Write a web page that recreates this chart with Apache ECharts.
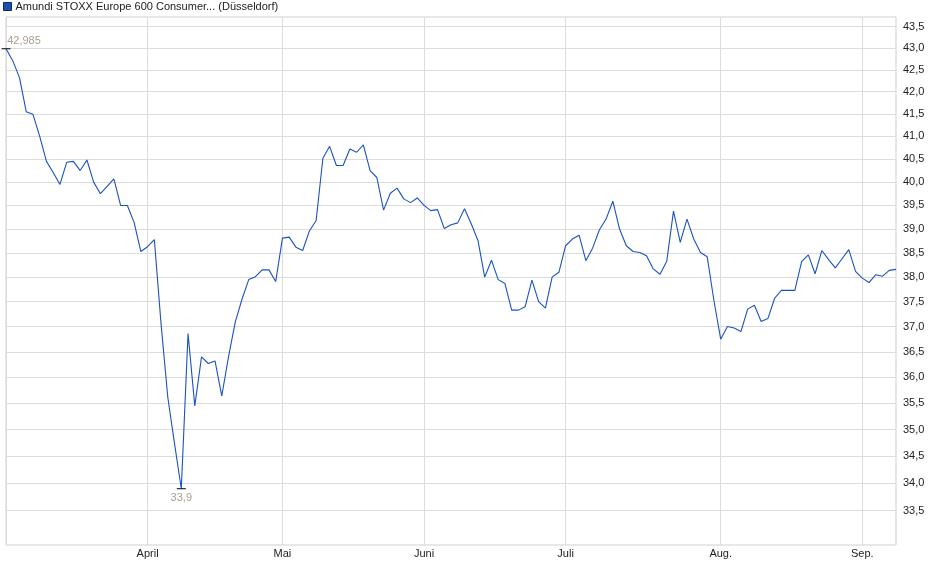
<!DOCTYPE html>
<html>
<head>
<meta charset="utf-8">
<script src="https://cdn.jsdelivr.net/npm/echarts@6/dist/echarts.min.js"></script>
<style>
  html, body { margin: 0; padding: 0; background: #fff; }
  #chart { width: 940px; height: 579px; }
</style>
</head>
<body>
<div id="chart"></div>
<script>
const seriesName = 'Amundi STOXX Europe 600 Consumer... (Düsseldorf)';

// trading days Mar 3 - Sep 8 2025, without exchange holidays
const firstDay = '2025-03-03';
const lastDay = '2025-09-08';
const holidays = ['2025-04-18', '2025-04-21', '2025-05-01'];

const monthNames = ['Jan.', 'Feb.', 'März', 'April', 'Mai', 'Juni', 'Juli', 'Aug.', 'Sep.', 'Okt.', 'Nov.', 'Dez.'];

// closing prices
const prices = [
  42.985, 42.71, 42.32, 41.55, 41.49, 41.0, 40.45, 40.21, 39.95, 40.43,
  40.45, 40.25, 40.48, 40.0, 39.75, 39.91, 40.07, 39.5, 39.5, 39.14,
  38.53, 38.63, 38.78, 37.05, 35.61, 34.73, 33.9, 36.86, 35.45, 36.4,
  36.27, 36.32, 35.64, 36.4, 37.09, 37.55, 37.95, 38.01, 38.15, 38.15,
  37.91, 38.81, 38.83, 38.62, 38.55, 38.96, 39.18, 40.52, 40.78, 40.36,
  40.36, 40.72, 40.65, 40.81, 40.25, 40.1, 39.4, 39.76, 39.87, 39.64,
  39.56, 39.66, 39.5, 39.39, 39.41, 39.01, 39.09, 39.13, 39.43, 39.11,
  38.76, 38.0, 38.35, 37.95, 37.87, 37.33, 37.33, 37.4, 37.94, 37.5,
  37.37, 38.0, 38.1, 38.65, 38.79, 38.87, 38.34, 38.6, 38.98, 39.21,
  39.59, 39.0, 38.65, 38.53, 38.51, 38.44, 38.17, 38.06, 38.33, 39.38,
  38.72, 39.21, 38.79, 38.51, 38.42, 37.52, 36.75, 37.0, 36.97, 36.9,
  37.35, 37.43, 37.1, 37.16, 37.57, 37.73, 37.73, 37.73, 38.32, 38.46,
  38.07, 38.55, 38.36, 38.19, 38.38, 38.57, 38.12, 37.98, 37.89, 38.05,
  38.02, 38.14, 38.16
];

const yTicks = [33.5, 34, 34.5, 35, 35.5, 36, 36.5, 37, 37.5, 38, 38.5,
  39, 39.5, 40, 40.5, 41, 41.5, 42, 42.5, 43, 43.5];

function tradingDays(from, to) {
  let out = [];
  let d = new Date(from + 'T12:00:00Z');
  let end = new Date(to + 'T12:00:00Z');
  while (d <= end) {
    let wd = d.getUTCDay();
    let s = d.toISOString().slice(0, 10);
    if (wd !== 0 && wd !== 6 && holidays.indexOf(s) < 0) out.push(s);
    d.setUTCDate(d.getUTCDate() + 1);
  }
  return out;
}

const dates = tradingDays(firstDay, lastDay);

// first trading day of every month
function isMonthStart(i) {
  return i === 0 || dates[i].slice(5, 7) !== dates[i - 1].slice(5, 7);
}

const fmt = v => String(v).replace('.', ',');

let myChart = echarts.init(document.getElementById('chart'));
myChart.setOption({
  animation: false,
  textStyle: { fontFamily: 'Liberation Sans, Arial, sans-serif' },
  legend: {
    left: 3,
    top: 1,
    padding: 0,
    icon: 'rect',
    itemWidth: 8,
    itemHeight: 8,
    selectedMode: false,
    textStyle: { fontSize: 11, color: '#222', padding: [0, 0, 0, -1] },
    data: [{ name: seriesName, itemStyle: { color: '#1f4fae', borderColor: '#0b2a66', borderWidth: 1 } }]
  },
  grid: {
    left: 6,
    right: 44,
    top: 17,
    bottom: 34,
    show: true,
    borderColor: '#cfcfcf',
    borderWidth: 1
  },
  xAxis: {
    type: 'category',
    data: dates,
    boundaryGap: false,
    axisLine: { show: false },
    axisTick: { show: false },
    axisLabel: {
      interval: (i) => i > 0 && isMonthStart(i),
      formatter: (v) => monthNames[parseInt(v.slice(5, 7), 10) - 1],
      fontSize: 11,
      color: '#222',
      margin: 3
    },
    splitLine: {
      show: true,
      interval: (i) => isMonthStart(i),
      lineStyle: { color: '#dcdcdc', width: 1 }
    }
  },
  yAxis: {
    type: 'log',
    logBase: 10,
    position: 'right',
    min: 32.886,
    max: 43.728,
    axisLine: { show: false },
    axisTick: { show: false, customValues: yTicks },
    axisLabel: {
      customValues: yTicks,
      formatter: (v) => Number(v).toFixed(1).replace('.', ','),
      fontSize: 11,
      color: '#222',
      margin: 7
    },
    splitLine: { show: true, lineStyle: { color: '#dcdcdc', width: 1 } }
  },
  series: [{
    name: seriesName,
    type: 'line',
    data: prices,
    symbol: 'none',
    lineStyle: { color: '#1a52c0', width: 1.1 },
    itemStyle: { color: '#1f4fae' },
    markPoint: {
      symbol: 'rect',
      symbolSize: [9, 1],
      itemStyle: { color: '#000' },
      label: { color: '#aa9f92', fontSize: 11, formatter: (p) => fmt(p.value) },
      data: [
        { type: 'max', label: { position: 'top', distance: 2, offset: [18, 0] } },
        { type: 'min', label: { position: 'bottom', distance: 3 } }
      ]
    }
  }]
});
</script>
</body>
</html>
